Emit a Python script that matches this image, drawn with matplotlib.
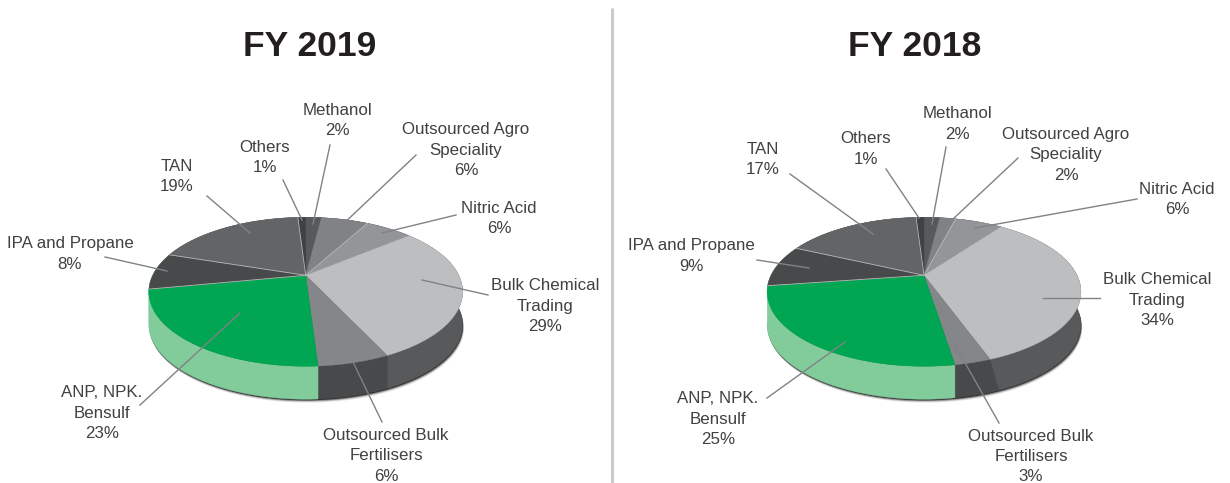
import numpy as np
import matplotlib
matplotlib.use("Agg")
import matplotlib.pyplot as plt
from matplotlib.patches import Polygon

plt.rcParams['font.family'] = ['Liberation Sans', 'DejaVu Sans']

# ---- data ----
categories = ["Methanol", "Outsourced Agro\nSpeciality", "Nitric Acid", "Bulk Chemical\nTrading",
              "Outsourced Bulk\nFertilisers", "ANP, NPK.\nBensulf", "IPA and Propane", "TAN", "Others"]
shares_2019 = [2, 6, 6, 29, 6, 23, 8, 19, 1]
shares_2018 = [2, 2, 6, 34, 3, 25, 9, 17, 1]
titles = ["FY 2019", "FY 2018"]

# ---- styles ----
top_colors = ["#58595b", "#808285", "#939598", "#bcbec0", "#858689", "#00a651", "#48494b", "#636466", "#404143"]
wall_colors = ["#404143", "#404143", "#404143", "#58595b", "#48494b", "#82cc9b", "#82cc9b", "#48494b", "#404143"]
seams = [1, 5, 6, 7]  # slices whose trailing edge has a pale hairline

# ---- layout (pixels) ----
layout_2019 = dict(cx=305.7, title_x=309.5, wall_skew=0.0,
    text=[(337, 120.5), (466, 150), (499, 218.5), (545, 306), (386, 456), (102, 413), (70, 254), (177, 176.5), (265, 157.5)],
    lead=[((330, 145), (313, 224)), ((416, 155), (340, 227)), ((456, 215), (382, 233)), ((488, 295), (422, 280)),
          ((382, 422), (353, 362)), ((140, 405), (240, 313)), ((105, 257), (167, 271)), ((207, 196), (250, 233)),
          ((283, 180), (302, 220))])
layout_2018 = dict(cx=924.0, title_x=914.5, wall_skew=0.05,
    text=[(957, 124), (1066, 155), (1177, 199.5), (1157, 300), (1031, 456.5), (718, 419), (691, 256), (763, 159.5), (866, 149)],
    lead=[((946, 147), (932, 224)), ((1018, 158), (953, 219)), ((1137, 199), (975, 228)), ((1100, 298), (1043, 298)),
          ((999, 423), (955, 345)), ((767, 398), (845, 342)), ((757, 260), (809, 268)), ((790, 174), (873, 234)),
          ((886, 169), (919, 218))])

APEX_Y, A, B, K, DEPTH = 275.3, 153.0, 70.8, 0.2215, 33.0
OUTSOURCED_BULK = 4


def project(theta, cx):
    """Clockwise angle from 12 o'clock on the pie disc -> picture position, with perspective."""
    x, y = np.sin(theta), np.cos(theta)
    w = 1 + K * y
    return cx + A * x / w, APEX_Y - B * y / w


def draw_pie(ax, values, cfg):
    v = np.asarray(values, float)
    edges = np.r_[0, np.cumsum(v)] / v.sum() * 2 * np.pi
    cx = cfg["cx"]
    # soft shadow under the disc
    th = np.linspace(0, 2 * np.pi, 300)
    sx, sy = project(th, cx)
    for off, a in [(3.4, .10), (2.6, .2), (1.8, .4), (1.0, .8)]:
        ax.add_patch(Polygon(np.c_[sx + off * .4, sy + DEPTH + off], fc="#1c1c1c", ec="none", alpha=a, zorder=1))
    # walls
    for i in range(len(v)):
        t = np.linspace(edges[i], edges[i + 1], 80)
        tb = t
        if i == OUTSOURCED_BULK and cfg["wall_skew"]:
            tb = np.linspace(edges[i] - cfg["wall_skew"], edges[i + 1], 80)
        px, py = project(t, cx)
        bx, by = project(tb, cx)
        poly = np.r_[np.c_[px, py], np.c_[bx, by + DEPTH][::-1]]
        ax.add_patch(Polygon(poly, fc=wall_colors[i], ec=wall_colors[i], lw=.3, zorder=2))
    # top surface
    for i in range(len(v)):
        t = np.linspace(edges[i], edges[i + 1], 80)
        px, py = project(t, cx)
        poly = np.r_[[[cx, APEX_Y]], np.c_[px, py]]
        ax.add_patch(Polygon(poly, fc=top_colors[i], ec=top_colors[i], lw=.3, zorder=3))
    for i in seams:
        ex, ey = project(edges[i + 1], cx)
        ax.plot([cx, ex], [APEX_Y, ey], color="#b9babc", lw=.6, zorder=4)
    # labels and leaders
    for i, (name, val) in enumerate(zip(categories, v)):
        (x0, y0), (x1, y1) = cfg["lead"][i]
        ax.plot([x0, x1], [y0, y1], color="#808285", lw=1.0, zorder=5)
        tx, ty = cfg["text"][i]
        ax.text(tx, ty, f"{name}\n{int(val)}%", ha="center", va="center", fontsize=12.2,
                color="#414042", linespacing=1.42, zorder=6)


fig = plt.figure(figsize=(12.30, 4.83), dpi=100)
ax = fig.add_axes([0, 0, 1, 1])
ax.set_xlim(0, 1230)
ax.set_ylim(483, 0)
ax.axis("off")

draw_pie(ax, shares_2019, layout_2019)
draw_pie(ax, shares_2018, layout_2018)

for title, cfg in zip(titles, (layout_2019, layout_2018)):
    ax.text(cfg["title_x"], 46, title, ha="center", va="center", fontsize=25.5, fontweight="bold", color="#231f20")

ax.plot([612, 612], [8, 483], color="#c9cacc", lw=2.2, solid_capstyle="butt")

fig.savefig("out.png", dpi=100)
